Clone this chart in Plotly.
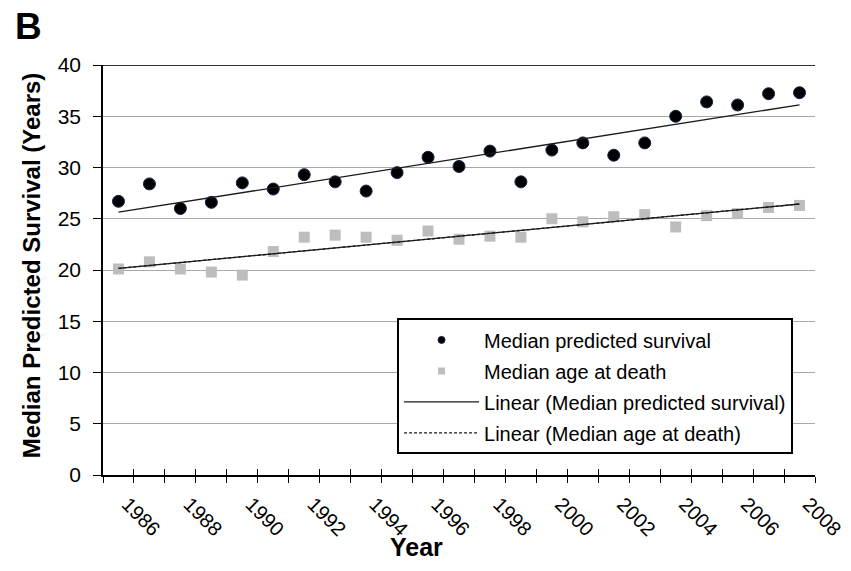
import numpy as np
import plotly.graph_objects as go

# Year of observation
years = [1986, 1987, 1988, 1989, 1990, 1991, 1992, 1993, 1994, 1995, 1996, 1997,
         1998, 1999, 2000, 2001, 2002, 2003, 2004, 2005, 2006, 2007, 2008]

# Median predicted survival (years)
predicted_survival = [26.7, 28.4, 26.0, 26.6, 28.5, 27.9, 29.3, 28.6, 27.7, 29.5, 31.0, 30.1,
                      31.6, 28.6, 31.7, 32.4, 31.2, 32.4, 35.0, 36.4, 36.1, 37.2, 37.3]

# Median age at death (years)
age_at_death = [20.1, 20.8, 20.1, 19.8, 19.5, 21.8, 23.2, 23.4, 23.2, 22.9, 23.8, 23.0,
                23.3, 23.2, 25.0, 24.7, 25.2, 25.4, 24.2, 25.3, 25.5, 26.1, 26.3]

year_labels = [str(y) for y in years[::2]]

# Least-squares linear trend for each series
x_arr = np.array(years, dtype=float)
fit_surv = np.polyval(np.polyfit(x_arr, predicted_survival, 1), x_arr)
fit_age = np.polyval(np.polyfit(x_arr, age_at_death, 1), x_arr)

# category boundaries for the tick marks
boundaries = [y - 0.5 for y in years] + [years[-1] + 0.5]

FONT = "Liberation Sans, Arial, sans-serif"

fig = go.Figure()

# small legend swatches sit underneath the full-size markers
fig.add_trace(go.Scatter(x=years, y=predicted_survival, mode="markers",
                         name="Median predicted survival", legendgroup="a",
                         marker=dict(symbol="circle", size=7, color="#000000",
                                     line=dict(color="#13254a", width=1))))
fig.add_trace(go.Scatter(x=years, y=age_at_death, mode="markers",
                         name="Median age at death", legendgroup="b",
                         marker=dict(symbol="square", size=7, color="#bdbdbd")))

fig.add_trace(go.Scatter(x=years, y=predicted_survival, mode="markers", showlegend=False,
                         marker=dict(symbol="circle", size=12, color="#000000",
                                     line=dict(color="#13254a", width=1))))
fig.add_trace(go.Scatter(x=years, y=age_at_death, mode="markers", showlegend=False,
                         marker=dict(symbol="square", size=11, color="#bdbdbd")))

fig.add_trace(go.Scatter(x=years, y=fit_surv, mode="lines", xaxis="x2",
                         name="Linear (Median predicted survival)", legendgroup="c",
                         line=dict(color="#1a1a1a", width=1.3)))
fig.add_trace(go.Scatter(x=years, y=fit_age, mode="lines", xaxis="x2",
                         name="Linear (Median age at death)", legendgroup="d",
                         line=dict(color="#1a1a1a", width=1.3, dash="3px,2px")))
fig.add_trace(go.Scatter(x=years, y=fit_age, mode="lines", xaxis="x2", showlegend=False,
                         line=dict(color="#1a1a1a", width=1.3)))

xrange = [years[0] - 0.5, years[-1] + 0.5]

fig.update_layout(
    width=851, height=571,
    margin=dict(l=103, r=36, t=65, b=96),
    paper_bgcolor="white", plot_bgcolor="white",
    font=dict(family=FONT, color="#000000"),
    showlegend=True,
    legend=dict(
        x=0.413, y=0.382, xanchor="left", yanchor="top",
        bgcolor="white", bordercolor="#000000", borderwidth=2,
        font=dict(size=20, family=FONT, color="#000000"),
        itemwidth=75, tracegroupgap=2, traceorder="grouped",
    ),
    xaxis=dict(
        range=xrange, showgrid=False, zeroline=False, automargin=False,
        showline=True, linecolor="#000000", linewidth=1.5,
        tickmode="array", tickvals=years[::2], ticktext=year_labels,
        ticks="", tickangle=45, ticklabelstandoff=8, ticklabelshift=9,
        tickfont=dict(size=20, family=FONT),
        minor=dict(tickmode="array", tickvals=boundaries, ticks="outside",
                   ticklen=6, tickwidth=1.3, tickcolor="#000000", showgrid=False),
    ),
    xaxis2=dict(
        overlaying="x", anchor="y", side="bottom", matches="x", automargin=False,
        range=xrange, showgrid=False, zeroline=False, showline=False,
        tickmode="array", tickvals=boundaries, ticks="inside",
        ticklen=6, tickwidth=1.3, tickcolor="#000000", showticklabels=False,
    ),
    yaxis=dict(
        range=[0, 40], dtick=5, tick0=0, automargin=False,
        showgrid=True, gridcolor="#a8a8a8", gridwidth=1, zeroline=False,
        showline=True, linecolor="#000000", linewidth=1.5,
        ticks="outside", ticklen=8, tickwidth=1.3, tickcolor="#000000",
        ticklabelstandoff=8,
        tickfont=dict(size=21, family=FONT),
    ),
    shapes=[dict(type="line", xref="paper", yref="y", x0=0, x1=1, y0=40, y1=40,
                 line=dict(color="#333333", width=2))],
    annotations=[
        dict(text="<b>Median Predicted Survival (Years)</b>", textangle=-90,
             xref="paper", yref="paper", x=-0.101, y=0.512,
             xanchor="center", yanchor="middle", showarrow=False,
             font=dict(size=24, family=FONT)),
        dict(text="<b>Year</b>", xref="paper", yref="paper", x=0.441, y=-0.176,
             xanchor="center", yanchor="middle", showarrow=False,
             font=dict(size=25, family=FONT)),
        dict(text="<b>B</b>", xref="paper", yref="paper", x=-0.127, y=1.150,
             xanchor="left", yanchor="top", showarrow=False,
             font=dict(size=37, family=FONT)),
    ],
)

fig.write_html("out.html")
